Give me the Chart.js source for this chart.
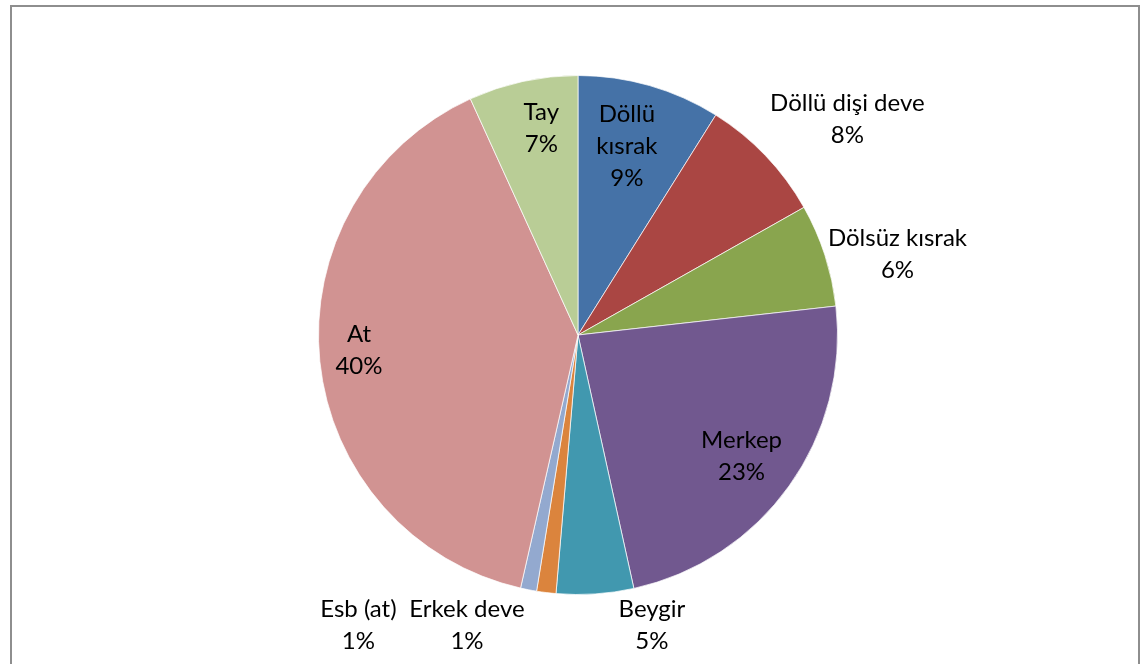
<!DOCTYPE html>
<html>
<head>
<meta charset="utf-8">
<script src="https://cdn.jsdelivr.net/npm/chart.js@4"></script>
<style>
  html, body { margin: 0; padding: 0; background: #fff; }
  #wrap { position: relative; width: 1146px; height: 664px; overflow: hidden; }
  #frame { position: absolute; left: 10px; top: 5px; width: 1130px; height: 700px;
           border: 2px solid #8e8e8e; box-sizing: border-box; }
  canvas { position: absolute; left: 0; top: 0; }
</style>
</head>
<body>
<div id="wrap">
  <div id="frame"></div>
  <canvas id="c" width="1146" height="664"></canvas>
</div>
<script>
const categories = ['Döllü kısrak', 'Döllü dişi deve', 'Dölsüz kısrak', 'Merkep', 'Beygir', 'Erkek deve', 'Esb (at)', 'At', 'Tay'];
const values = [8.9, 7.9, 6.4, 23.3, 4.8, 1.2, 1.0, 39.6, 6.8];
const colors = ['#4572A7', '#AA4643', '#89A54E', '#71588F', '#4198AF', '#DB843D', '#93A9CF', '#D19392', '#B9CD96'];

// label placement: radial factor (x radius), angular nudge (deg), wrap words onto lines
const labelRadius = [0.75, 1.33, 1.27, 0.785, 1.155, 1.198, 1.403, 0.846, 0.81];
const labelNudge  = [-1.5, 5.0, 3.7, 1.0, -10.5, 13.9, 26.1, 1.9, 2.2];
const labelWrap   = [true, false, false, false, false, false, false, false, false];

const pieLabels = {
  id: 'pieLabels',
  afterDatasetsDraw(chart) {
    const ctx = chart.ctx;
    const meta = chart.getDatasetMeta(0);
    const data = chart.data.datasets[0].data;
    const total = data.reduce((a, b) => a + b, 0);
    ctx.save();
    ctx.font = '24px Lato, "Open Sans", sans-serif';
    ctx.fillStyle = '#000';
    ctx.textAlign = 'center';
    ctx.textBaseline = 'middle';
    const lh = 32;
    meta.data.forEach((arc, i) => {
      const p = arc.getProps(['x', 'y', 'startAngle', 'endAngle', 'outerRadius'], true);
      const mid = (p.startAngle + p.endAngle) / 2 + labelNudge[i] * Math.PI / 180;
      const r = p.outerRadius * labelRadius[i];
      const x = p.x + Math.cos(mid) * r;
      const y = p.y + Math.sin(mid) * r;
      const pct = Math.round(data[i] / total * 100) + '%';
      const name = chart.data.labels[i];
      const lines = (labelWrap[i] ? name.split(' ') : [name]).concat([pct]);
      const y0 = y - (lines.length - 1) * lh / 2;
      lines.forEach((t, k) => ctx.fillText(t, x, y0 + k * lh));
    });
    ctx.restore();
  }
};

new Chart(document.getElementById('c'), {
  type: 'pie',
  data: {
    labels: categories,
    datasets: [{
      data: values,
      backgroundColor: colors,
      borderColor: 'rgba(255,255,255,0.7)',
      borderWidth: 1
    }]
  },
  options: {
    responsive: false,
    animation: false,
    layout: { padding: { left: 318, right: 308, top: 75, bottom: 69 } },
    plugins: {
      legend: { display: false },
      tooltip: { enabled: false },
      title: { display: false }
    }
  },
  plugins: [pieLabels]
});
</script>
</body>
</html>
